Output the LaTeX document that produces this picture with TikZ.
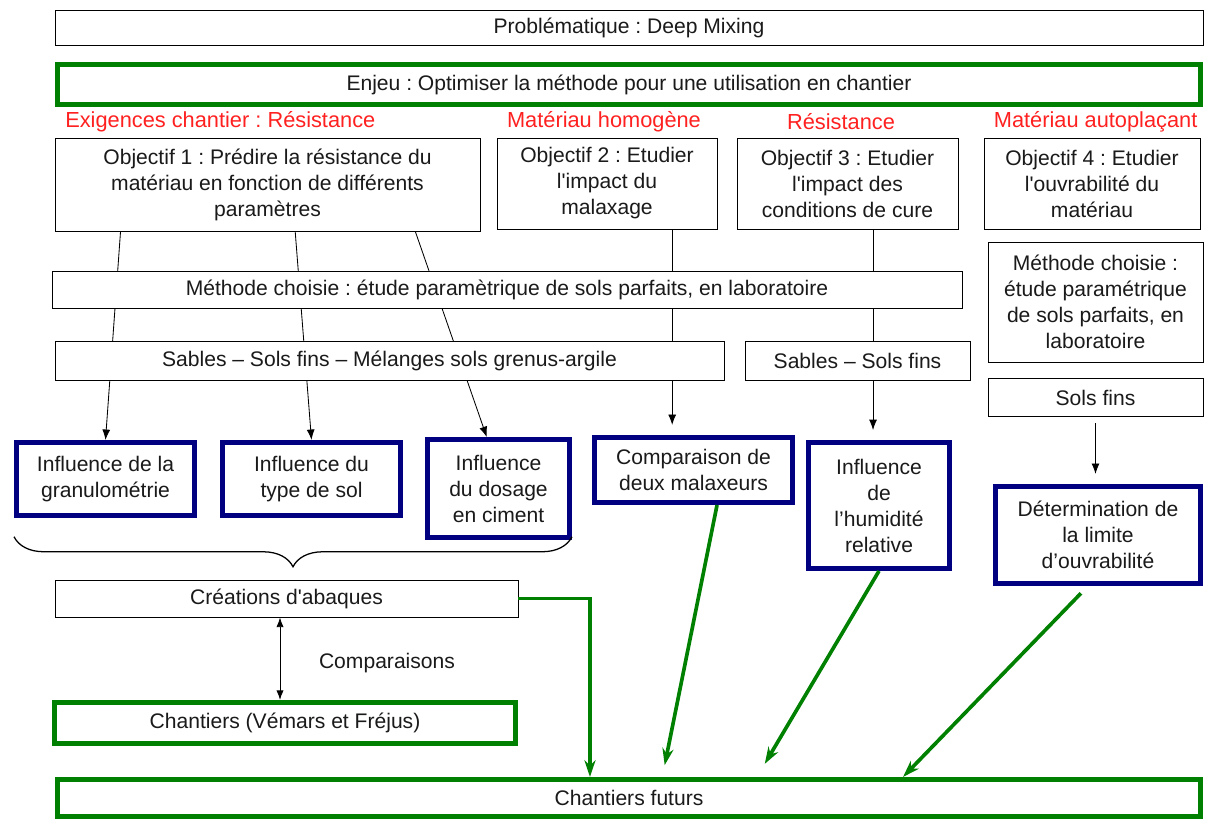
\documentclass[tikz,border=0pt]{standalone}
\usepackage{fontspec}
\setmainfont{Liberation Sans}[Ligatures=TeXOff]
\frenchspacing
\definecolor{DMGreen}{HTML}{008000}
\definecolor{DMNavy}{HTML}{000080}
\definecolor{DMRed}{HTML}{FF2020}
\definecolor{DMText}{HTML}{1A1A1A}
\usetikzlibrary{arrows.meta,positioning,calc,backgrounds,decorations.pathreplacing}
\tikzset{
    % Plain thin boxes
    process/.style={
        rectangle,
        draw=black,
        line width=0.7pt,
        fill=white,
        text=DMText,
        inner sep=2pt,
        align=center,
        font=\fontsize{15}{18.5}\selectfont
    },
    process green/.style={
        process,
        draw=DMGreen,
        line width=3.5pt
    },
    process blue/.style={
        process,
        draw=DMNavy,
        line width=3.5pt
    },
    label red/.style={
        text=DMRed,
        inner sep=0pt,
        font=\fontsize{15.5}{18}\selectfont
    },
    label plain/.style={
        text=DMText,
        inner sep=0pt,
        font=\fontsize{15}{18}\selectfont
    },
    arrow/.style={
        -{Latex[length=2.6mm,width=2mm]},
        line width=0.6pt,
        color=black
    },
    arrow both/.style={
        {Latex[length=2.4mm,width=1.8mm]}-{Latex[length=2.4mm,width=1.8mm]},
        line width=0.6pt,
        color=black
    },
    arrow green/.style={
        -{Stealth[length=4.2mm,width=2.8mm]},
        line width=2.6pt,
        color=DMGreen
    },
    brace line/.style={
        decorate,
        decoration={brace,mirror,amplitude=0.75cm},
        line width=0.9pt
    }
}

\begin{document}
\begin{tikzpicture}
    \useasboundingbox (0,0) rectangle (30.15,-20.525);

    % Header
    \node[process, minimum width=28.7cm, minimum height=0.875cm] (prob) at (15.725,-0.6875)
          {Problématique : Deep Mixing};
    \node[process green, minimum width=28.58cm, minimum height=1.0cm] (enjeu) at (15.725,-2.1125)
          {Enjeu : Optimiser la méthode pour une utilisation en chantier};

    % Requirements
    \node[label red, anchor=west] (req1) at (1.625,-3.05) {Exigences chantier : Résistance};
    \node[label red] (req2) at (15.1,-3.05) {Matériau homogène};
    \node[label red] (req3) at (21.025,-3.05) {Résistance};
    \node[label red] (req4) at (27.39,-3.05) {Matériau autoplaçant};

    % Objectives
    \node[process, minimum width=10.625cm, minimum height=2.325cm] (obj1) at (6.6875,-4.6125)
          {Objectif 1 : Prédire la résistance du\\matériau en fonction de différents\\paramètres};
    \node[process, minimum width=5.5cm, minimum height=2.275cm] (obj2) at (15.175,-4.5875)
          {Objectif 2 : Etudier\\l'impact du\\malaxage};
    \node[process, minimum width=5.525cm, minimum height=2.275cm] (obj3) at (21.1875,-4.5875)
          {Objectif 3 : Etudier\\l'impact des\\conditions de cure};
    \node[process, minimum width=5.4cm, minimum height=2.275cm] (obj4) at (27.3,-4.5875)
          {Objectif 4 : Etudier\\l'ouvrabilité du\\matériau};

    % Methods
    \node[process, minimum width=22.75cm, minimum height=0.925cm] (meth) at (12.675,-7.2375)
          {Méthode choisie : étude paramètrique de sols parfaits, en laboratoire};
    \node[process, minimum width=5.375cm, minimum height=3.0cm] (meth_r) at (27.3875,-7.55)
          {Méthode choisie :\\étude paramétrique\\de sols parfaits, en\\laboratoire};

    % Soils
    \node[process, minimum width=16.725cm, minimum height=0.975cm] (soil1) at (9.7375,-9.0125)
          {Sables – Sols fins – Mélanges sols grenus-argile};
    \node[process, minimum width=5.625cm, minimum height=0.975cm] (soil2) at (21.4375,-9.0125)
          {Sables – Sols fins};
    \node[process, below=0.4cm of meth_r, minimum width=5.375cm, minimum height=0.95cm] (soil3)
          {Sols fins};

    % Studies
    \node[process blue, minimum width=4.45cm, minimum height=1.83cm] (granulo) at (2.6375,-11.975)
          {Influence de la\\granulométrie};
    \node[process blue, minimum width=4.45cm, minimum height=1.83cm] (typesol) at (7.7875,-11.975)
          {Influence du\\type de sol};
    \node[process blue, minimum width=3.55cm, minimum height=2.45cm] (dosage) at (12.4625,-12.2125)
          {Influence\\du dosage\\en ciment};
    \node[process blue, minimum width=4.95cm, minimum height=1.63cm] (malax) at (17.3375,-11.75)
          {Comparaison de\\deux malaxeurs};
    \node[process blue, minimum width=3.53cm, minimum height=3.15cm] (humid) at (21.975,-12.6375)
          {Influence\\de\\l’humidité\\relative};
    \node[process blue, minimum width=5.13cm, minimum height=2.43cm] (ouvra) at (27.45,-13.375)
          {Détermination de\\la limite\\d’ouvrabilité};

    % Outputs
    \node[process, minimum width=11.575cm, minimum height=0.925cm] (abaq) at (7.1625,-14.9625)
          {Créations d'abaques};
    \node[process green, minimum width=11.53cm, minimum height=1.03cm] (vemars) at (7.125,-18.075)
          {Chantiers (Vémars et Fréjus)};
    \node[label plain] (compar) at (9.675,-16.575) {Comparaisons};
    \node[process green, minimum width=28.58cm, minimum height=0.93cm] (futur) at (15.725,-19.95)
          {Chantiers futurs};

    % Arrows behind the boxes
    \begin{scope}[on background layer]
        \draw[arrow] ($(obj1.south west)!0.155!(obj1.south east)$) -- (granulo.north);
        \draw[arrow] ($(obj1.south west)!0.565!(obj1.south east)$) -- (typesol.north);
        \draw[arrow] ($(obj1.south west)!0.847!(obj1.south east)$) -- ($(dosage.north west)!0.42!(dosage.north east)$);
        \draw[arrow, shorten >=0.25cm] ($(obj2.south west)!0.795!(obj2.south east)$) coordinate (o2)
              -- (o2 |- malax.north);
        \draw[arrow, shorten >=0.25cm] ($(obj3.south west)!0.615!(obj3.south east)$) coordinate (o3)
              -- (o3 |- humid.north);
    \end{scope}
    \draw[arrow, shorten <=0.15cm, shorten >=0.25cm] (soil3.south) -- (soil3.south |- ouvra.north);

    % Brace and comparison
    \draw[brace line] ($(granulo.west |- dosage.south)+(0,0.08)$) -- ($(dosage.south east)+(0,0.08)$);
    \draw[arrow both] ($(abaq.south west)!0.486!(abaq.south east)$) coordinate (ab)
          -- (ab |- vemars.north);

    % Green arrows
    \draw[arrow green] (abaq.east) -| ($(futur.north west)!0.466!(futur.north east)$);
    \draw[arrow green, shorten >=0.3cm] ($(malax.south west)!0.616!(malax.south east)$)
          -- ($(futur.north west)!0.529!(futur.north east)$);
    \draw[arrow green, shorten >=0.38cm] (humid.south) -- ($(futur.north west)!0.6115!(futur.north east)$);
    \draw[arrow green, shorten <=0.25cm] ($(ouvra.south west)!0.452!(ouvra.south east)$)
          -- ($(futur.north west)!0.7387!(futur.north east)$);
\end{tikzpicture}
\end{document}
